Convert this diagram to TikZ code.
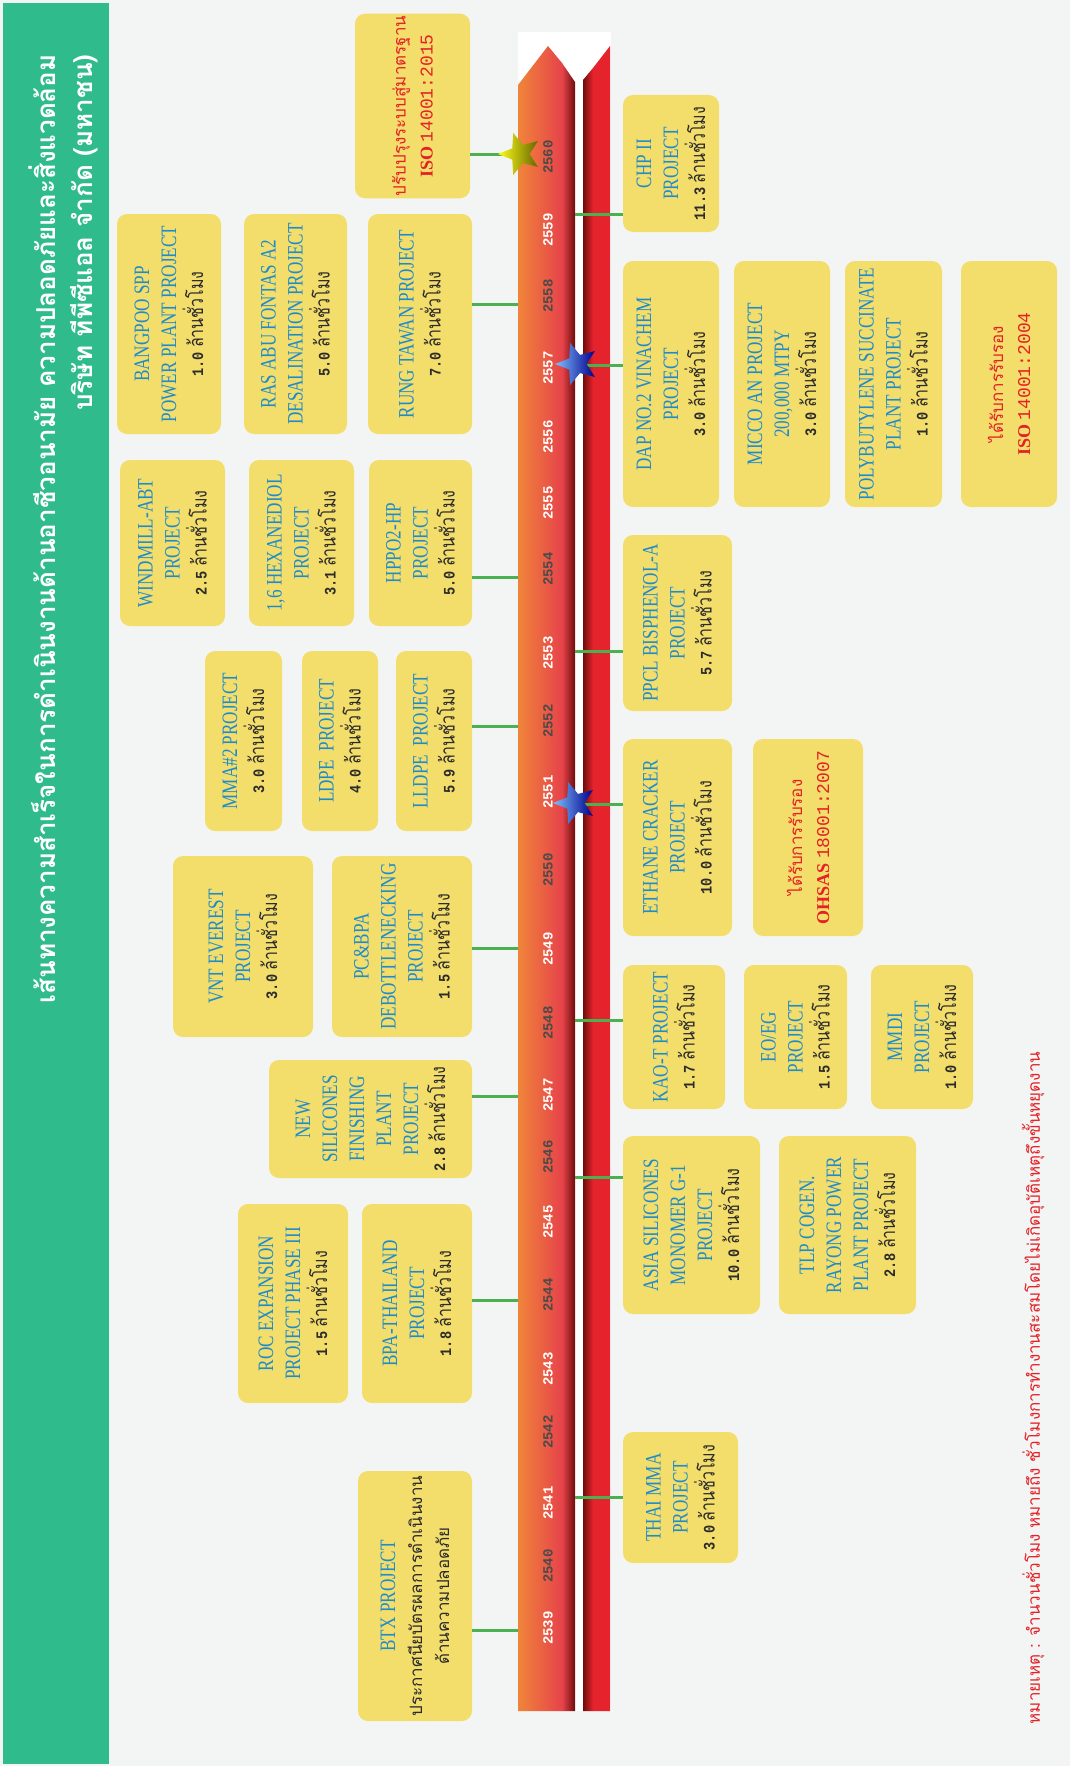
\documentclass[tikz,border=0pt]{standalone}
\usepackage{fontspec}
\setmainfont{Liberation Serif}
\newfontfamily\thaifont[Script=Thai]{Loma}
\newfontfamily\thaicond[Script=Thai,FakeStretch=0.8]{Loma}
\newfontfamily\projfont[FakeStretch=0.78]{Liberation Serif}
\newfontfamily\yearfont{Liberation Mono}
\newfontfamily\hourfont[FakeStretch=0.85]{Liberation Mono}
\usetikzlibrary{shapes.geometric}

\definecolor{pagebg}{HTML}{F3F5F4}
\definecolor{bannergreen}{HTML}{2FBB8B}
\definecolor{boxyellow}{HTML}{F3DD6B}
\definecolor{projblue}{HTML}{1E8BCB}
\definecolor{hourgray}{HTML}{2B2B2B}
\definecolor{certred}{HTML}{E42127}
\definecolor{linkgreen}{HTML}{4CAF50}
\definecolor{barorange}{HTML}{F0843A}
\definecolor{barred}{HTML}{E6434A}
\definecolor{bardark}{HTML}{6E0C0C}
\definecolor{barbright}{HTML}{E5232C}
\definecolor{yeargray}{HTML}{4A4A4A}

\newcommand{\thtext}[1]{{\thaifont\fontsize{17}{27}\selectfont #1}}
\newcommand{\hrs}[1]{{\color{hourgray}{\hourfont\bfseries\fontsize{16}{27}\selectfont #1} {\thaicond\fontsize{20}{27}\selectfont ล้านชั่วโมง}}}
\newcommand{\stdname}[2]{{\rmfamily\bfseries\fontsize{18}{27}\selectfont #1} {\yearfont\fontsize{18}{27}\selectfont #2}}
\newcommand{\projbox}[7][projbox]{\node[#1, minimum width={(#6-#4)*1pt}, minimum height={(#5-#3)*1pt}] (#2) at ({(#3+#5)/2},{(#4+#6)/2}) {#7};}

\tikzset{
	projbox/.style={rounded corners=10pt, fill=boxyellow, align=center, rotate=90, inner sep=2pt, text=projblue, font=\projfont\fontsize{22}{27}\selectfont},
	certbox/.style={projbox, text=certred},
	link/.style={draw=linkgreen, line width=3pt},
	yearlbl/.style={rotate=90, font=\yearfont\bfseries\fontsize{14}{15}\selectfont},
	titletext/.style={rotate=90, text=white, font=\thaifont\bfseries\fontsize{26}{30}\selectfont},
	starmark/.style={star, star points=5, star point ratio=2.3, minimum size=44pt, inner sep=0pt, shape border rotate=90},
}

\begin{document}
\begin{tikzpicture}[x=1pt,y=-1pt]
	\useasboundingbox (0,0) rectangle (1070,1766);
	\fill[pagebg] (0,0) rectangle (1070,1766);
	\fill[bannergreen] (3,3) rectangle (109,1764);
	
	\node[titletext, anchor=east] (title1) at (42,51) {เส้นทางความสำเร็จในการดำเนินงานด้านอาชีวอนามัย ความปลอดภัยและสิ่งแวดล้อม};
	\node[titletext, anchor=east] (title2) at (84,51) {บริษัท ทีพีซีแอล จำกัด (มหาชน)};
	
	\fill[white] (518,32) rectangle (611,1711);
	\shade[left color=barorange, right color=barred] (518,1711) -- (518,85) -- (548,46) -- (562,63) -- (562,1711) -- cycle;
	\shade[left color=barred, right color=bardark] (562,1711) -- (562,63) -- (575,82) -- (575,1711) -- cycle;
	\shade[left color=bardark, right color=barbright] (583,1711) -- (583,80) -- (593,68) -- (593,1711) -- cycle;
	\fill[barbright] (593,1711) -- (593,68) -- (610,46) -- (610,1711) -- cycle;
	
	\foreach \yr/\yy/\col in {2539/1628/white, 2540/1566/yeargray, 2541/1503/white, 2542/1432/yeargray, 2543/1369/white, 2544/1295/yeargray, 2545/1222/white, 2546/1157/yeargray, 2547/1095/white, 2548/1023/yeargray, 2549/949/white, 2550/870/yeargray, 2551/792/white, 2552/721/yeargray, 2553/653/white, 2554/569/yeargray, 2555/503/white, 2556/437/white, 2557/368/white, 2558/296/yeargray, 2559/230/white, 2560/157/yeargray}{
		\node[yearlbl, text=\col] (y\yr) at (548,\yy) {\yr};
	}
	
	\projbox[certbox]{iso15}{355}{15}{470}{197}{\thtext{ปรับปรุงระบบสู่มาตรฐาน}\\\stdname{ISO}{14001:2015}}
	\projbox{bangpoo}{117}{214}{221}{434}{BANGPOO SPP\\POWER PLANT PROJECT\\\hrs{1.0}}
	\projbox{rasabu}{244}{214}{347}{434}{RAS ABU FONTAS A2\\DESALINATION PROJECT\\\hrs{5.0}}
	\projbox{rung}{368}{214}{472}{434}{RUNG TAWAN PROJECT\\\hrs{7.0}}
	\projbox{windmill}{120}{460}{225}{626}{WINDMILL-ABT\\PROJECT\\\hrs{2.5}}
	\projbox{hexane}{249}{460}{354}{626}{1,6 HEXANEDIOL\\PROJECT\\\hrs{3.1}}
	\projbox{hppo}{369}{460}{472}{626}{HPPO2-HP\\PROJECT\\\hrs{5.0}}
	\projbox{mma}{205}{651}{282}{831}{MMA\#2 PROJECT\\\hrs{3.0}}
	\projbox{ldpe}{302}{651}{378}{831}{LDPE\ \ PROJECT\\\hrs{4.0}}
	\projbox{lldpe}{396}{651}{472}{831}{LLDPE\ \ PROJECT\\\hrs{5.9}}
	\projbox{vnt}{173}{856}{313}{1037}{VNT EVEREST\\PROJECT\\\hrs{3.0}}
	\projbox{pcbpa}{332}{856}{472}{1037}{PC\&BPA\\DEBOTTLENECKING\\PROJECT\\\hrs{1.5}}
	\projbox{newsil}{269}{1060}{472}{1178}{NEW\\SILICONES\\FINISHING\\PLANT\\PROJECT\\\hrs{2.8}}
	\projbox{roc}{238}{1204}{348}{1403}{ROC EXPANSION\\PROJECT PHASE III\\\hrs{1.5}}
	\projbox{bpath}{362}{1204}{472}{1403}{BPA-THAILAND\\PROJECT\\\hrs{1.8}}
	\projbox{btx}{358}{1471}{472}{1721}{BTX PROJECT\\{\color{hourgray}\thtext{ประกาศนียบัตรผลการดำเนินงาน}}\\{\color{hourgray}\thtext{ด้านความปลอดภัย}}}
	
	\projbox{chp}{623}{95}{719}{232}{CHP II\\PROJECT\\\hrs{11.3}}
	\projbox{dap}{623}{261}{719}{507}{DAP NO.2 VINACHEM\\PROJECT\\\hrs{3.0}}
	\projbox{micco}{734}{261}{830}{507}{MICCO AN PROJECT\\200,000 MTPY\\\hrs{3.0}}
	\projbox{pbs}{845}{261}{942}{507}{POLYBUTYLENE SUCCINATE\\PLANT PROJECT\\\hrs{1.0}}
	\projbox[certbox]{iso04}{961}{261}{1057}{507}{\thtext{ได้รับการรับรอง}\\\stdname{ISO}{14001:2004}}
	\projbox{ppcl}{623}{535}{732}{711}{PPCL BISPHENOL-A\\PROJECT\\\hrs{5.7}}
	\projbox{ethane}{623}{739}{732}{936}{ETHANE CRACKER\\PROJECT\\\hrs{10.0}}
	\projbox[certbox]{ohsas}{753}{739}{863}{936}{\thtext{ได้รับการรับรอง}\\\stdname{OHSAS}{18001:2007}}
	\projbox{kaot}{623}{965}{725}{1109}{KAO-T PROJECT\\\hrs{1.7}}
	\projbox{eoeg}{744}{965}{847}{1109}{EO/EG\\PROJECT\\\hrs{1.5}}
	\projbox{mmdi}{871}{965}{973}{1109}{MMDI\\PROJECT\\\hrs{1.0}}
	\projbox{asia}{623}{1136}{760}{1314}{ASIA SILICONES\\MONOMER G-1\\PROJECT\\\hrs{10.0}}
	\projbox{tlp}{779}{1136}{916}{1314}{TLP COGEN.\\RAYONG POWER\\PLANT PROJECT\\\hrs{2.8}}
	\projbox{thaimma}{623}{1432}{738}{1563}{THAI MMA\\PROJECT\\\hrs{3.0}}
	
	\foreach \yr/\yy/\bx in {2560/154/iso15, 2558/304/rung, 2554/577/hppo, 2552/726/lldpe, 2549/948/pcbpa, 2547/1096/newsil, 2544/1300/bpath, 2539/1630/btx}{
		\coordinate (L\yr) at (518,\yy);
		\draw[link] (L\yr) -- (L\yr -| \bx.south);
	}
	\foreach \yr/\yy/\bx in {2559/214/chp, 2557/365/dap, 2553/651/ppcl, 2551/804/ethane, 2548/1020/kaot, 2546/1177/asia, 2541/1497/thaimma}{
		\coordinate (R\yr) at (575,\yy);
		\draw[link] (R\yr) -- (R\yr -| \bx.north);
	}
	
	\node[starmark, left color=yellow!90!white, right color=yellow!40!black] (star2560) at (520,154) {};
	\node[starmark, left color=cyan!50!blue!50!white, right color=blue!55!black] (star2557) at (577,364) {};
	\node[starmark, left color=cyan!50!blue!50!white, right color=blue!55!black] (star2551) at (575,803) {};
	
	\node[rotate=90, text=certred, font=\thaifont\fontsize{17}{20}\selectfont] (note) at (1033,1388) {หมายเหตุ : จำนวนชั่วโมง หมายถึง ชั่วโมงการทำงานสะสมโดยไม่เกิดอุบัติเหตุถึงขั้นหยุดงาน};
\end{tikzpicture}
\end{document}
